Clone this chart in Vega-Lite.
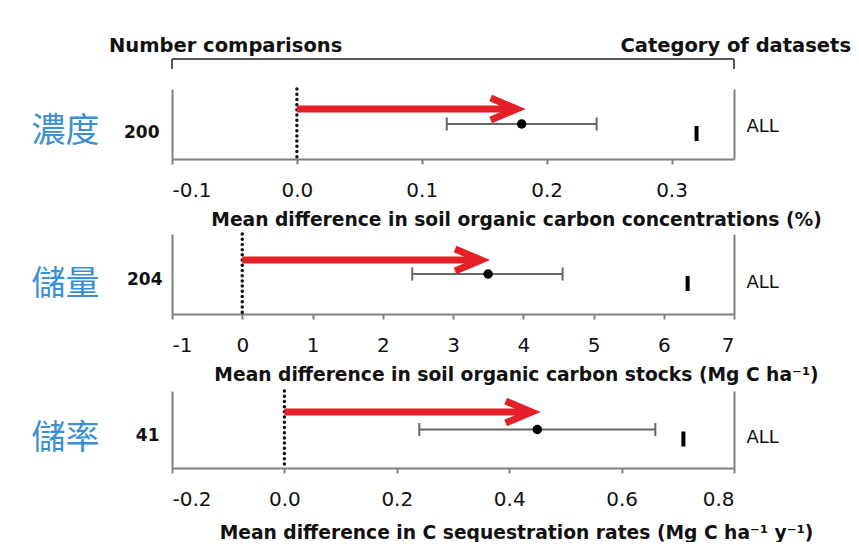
{
  "$schema": "https://vega.github.io/schema/vega-lite/v6.json",
  "background": "white",
  "padding": {"left": 31, "top": 36, "right": 0, "bottom": 0},
  "spacing": 3,
  "config": {
    "view": {"stroke": null},
    "axis": {"grid": false},
    "tick": {"opacity": 1},
    "axisX": {
      "domainColor": "#808080", "domainWidth": 2,
      "tickColor": "#808080", "tickWidth": 2, "tickSize": 5,
      "labelFont": "DejaVu Sans", "labelFontSize": 20, "labelColor": "#111", "labelPadding": 16,
      "labelExpr": "replace(datum.label, '\u2212', '-')",
      "titleFont": "DejaVu Sans", "titleFontWeight": "bold", "titleFontSize": 18.7, "titleColor": "#111",
      "titlePadding": 10, "titleX": 344
    }
  },
  "vconcat": [
    {
      "width": 562, "height": 22,
      "layer": [
        {
          "data": {"values": [{"bracket": "top"}]},
          "mark": {"type": "rule", "color": "#555", "strokeWidth": 2},
          "encoding": {
            "x": {"datum": 0, "type": "quantitative", "scale": {"domain": [0, 1]}, "axis": null},
            "x2": {"datum": 1},
            "y": {"datum": 1, "type": "quantitative", "scale": {"domain": [0, 1]}, "axis": null}
          }
        },
        {
          "data": {"values": [{"end": 0}, {"end": 1}]},
          "mark": {"type": "rule", "color": "#555", "strokeWidth": 2},
          "encoding": {
            "x": {"field": "end", "type": "quantitative", "axis": null},
            "y": {"datum": 1, "type": "quantitative"},
            "y2": {"datum": 0.545}
          }
        },
        {
          "data": {"values": [{"label": "Number comparisons"}]},
          "mark": {"type": "text", "font": "DejaVu Sans", "fontWeight": "bold", "fontSize": 19.5, "color": "#111", "align": "left", "baseline": "alphabetic", "dx": -63, "dy": -7},
          "encoding": {
            "text": {"field": "label"},
            "x": {"datum": 0, "type": "quantitative"},
            "y": {"datum": 1, "type": "quantitative"}
          }
        },
        {
          "data": {"values": [{"label": "Category of datasets"}]},
          "mark": {"type": "text", "font": "DejaVu Sans", "fontWeight": "bold", "fontSize": 19.5, "color": "#111", "align": "right", "baseline": "alphabetic", "dx": 117, "dy": -7},
          "encoding": {
            "text": {"field": "label"},
            "x": {"datum": 1, "type": "quantitative"},
            "y": {"datum": 1, "type": "quantitative"}
          }
        }
      ]
    },
    {
      "width": 562, "height": 70,
      "data": {"values": [{"n": "200", "cat": "ALL", "mean": 0.18, "lo": 0.12, "hi": 0.24, "arrow": 0.176, "marker": 0.32}]},
      "layer": [
        {
          "mark": {"type": "rule", "color": "#111", "strokeWidth": 3.5, "strokeDash": [0.01, 5.2], "strokeCap": "round"},
          "encoding": {"x": {"datum": 0, "type": "quantitative"}}
        },
        {
          "encoding": {
            "y": {"field": "n", "type": "nominal", "scale": {"align": 0.5},
              "axis": {"orient": "left", "title": "濃度", "titleAngle": 0, "titleAlign": "right", "titleBaseline": "middle", "titleX": -73, "titleY": 42,
                "titleFont": "Noto Sans CJK TC", "titleFontSize": 34, "titleFontWeight": "normal", "titleColor": "#3b8fd3",
                "labelFont": "DejaVu Sans", "labelFontWeight": "bold", "labelFontSize": 17, "labelColor": "#111", "labelPadding": 13, "labelOffset": 8.5,
                "ticks": false, "domain": true, "domainColor": "#808080", "domainWidth": 2}}
          },
          "layer": [
            {
              "mark": {"type": "rule", "color": "#666", "strokeWidth": 2},
              "encoding": {
                "x": {"field": "lo", "type": "quantitative", "title": "Mean difference in soil organic carbon concentrations (%)",
                  "scale": {"domain": [-0.1, 0.35], "nice": false, "zero": false},
                  "axis": {"values": [-0.1, 0, 0.1, 0.2, 0.3], "format": ".1f", "titlePadding": 10}},
                "x2": {"field": "hi"}
              }
            },
            {
              "mark": {"type": "tick", "color": "#666", "thickness": 2, "size": 13},
              "encoding": {"x": {"field": "lo", "type": "quantitative", "title": "Mean difference in soil organic carbon concentrations (%)"}}
            },
            {
              "mark": {"type": "tick", "color": "#666", "thickness": 2, "size": 13},
              "encoding": {"x": {"field": "hi", "type": "quantitative", "title": "Mean difference in soil organic carbon concentrations (%)"}}
            },
            {
              "mark": {"type": "rule", "color": "#e41f26", "strokeWidth": 7, "yOffset": -15},
              "encoding": {"x": {"field": "arrow", "type": "quantitative", "title": "Mean difference in soil organic carbon concentrations (%)"}, "x2": {"datum": 0}}
            },
            {
              "mark": {"type": "point", "shape": "M-1,-0.42L0,0L-1,0.42", "filled": false, "stroke": "#e41f26", "strokeWidth": 7, "strokeJoin": "miter", "size": 2704, "opacity": 1, "yOffset": -15},
              "encoding": {"x": {"field": "arrow", "type": "quantitative", "title": "Mean difference in soil organic carbon concentrations (%)"}}
            },
            {
              "mark": {"type": "point", "filled": true, "color": "#000", "size": 90, "opacity": 1},
              "encoding": {"x": {"field": "mean", "type": "quantitative", "title": "Mean difference in soil organic carbon concentrations (%)"}}
            }
          ]
        },
        {
          "mark": {"type": "tick", "color": "#000", "thickness": 4, "size": 15, "yOffset": 9.5},
          "encoding": {
            "x": {"field": "marker", "type": "quantitative", "title": "Mean difference in soil organic carbon concentrations (%)"},
            "y": {"field": "cat", "type": "nominal",
              "axis": {"orient": "right", "title": null, "ticks": false, "domain": true, "domainColor": "#808080", "domainWidth": 2,
                "labelFont": "DejaVu Sans", "labelFontSize": 18, "labelColor": "#111", "labelPadding": 12, "labelOffset": 3}}
          }
        }
      ],
      "resolve": {"scale": {"y": "independent"}}
    },
    {
      "width": 562, "height": 80,
      "data": {"values": [{"n": "204", "cat": "ALL", "mean": 3.5, "lo": 2.42, "hi": 4.56, "arrow": 3.4, "marker": 6.34}]},
      "layer": [
        {
          "mark": {"type": "rule", "color": "#111", "strokeWidth": 3.5, "strokeDash": [0.01, 5.2], "strokeCap": "round"},
          "encoding": {"x": {"datum": 0, "type": "quantitative"}}
        },
        {
          "encoding": {
            "y": {"field": "n", "type": "nominal", "scale": {"align": 0.55},
              "axis": {"orient": "left", "title": "儲量", "titleAngle": 0, "titleAlign": "right", "titleBaseline": "middle", "titleX": -73, "titleY": 50,
                "titleFont": "Noto Sans CJK TC", "titleFontSize": 34, "titleFontWeight": "normal", "titleColor": "#3b8fd3",
                "labelFont": "DejaVu Sans", "labelFontWeight": "bold", "labelFontSize": 17, "labelColor": "#111", "labelPadding": 10, "labelOffset": 5.5,
                "ticks": false, "domain": true, "domainColor": "#808080", "domainWidth": 2}}
          },
          "layer": [
            {
              "mark": {"type": "rule", "color": "#666", "strokeWidth": 2},
              "encoding": {
                "x": {"field": "lo", "type": "quantitative", "title": "Mean difference in soil organic carbon stocks (Mg C ha⁻¹)",
                  "scale": {"domain": [-1, 7], "nice": false, "zero": false},
                  "axis": {"values": [-1, 0, 1, 2, 3, 4, 5, 6, 7], "format": "d"}},
                "x2": {"field": "hi"}
              }
            },
            {
              "mark": {"type": "tick", "color": "#666", "thickness": 2, "size": 13},
              "encoding": {"x": {"field": "lo", "type": "quantitative", "title": "Mean difference in soil organic carbon stocks (Mg C ha⁻¹)"}}
            },
            {
              "mark": {"type": "tick", "color": "#666", "thickness": 2, "size": 13},
              "encoding": {"x": {"field": "hi", "type": "quantitative", "title": "Mean difference in soil organic carbon stocks (Mg C ha⁻¹)"}}
            },
            {
              "mark": {"type": "rule", "color": "#e41f26", "strokeWidth": 7, "yOffset": -14},
              "encoding": {"x": {"field": "arrow", "type": "quantitative", "title": "Mean difference in soil organic carbon stocks (Mg C ha⁻¹)"}, "x2": {"datum": 0}}
            },
            {
              "mark": {"type": "point", "shape": "M-1,-0.42L0,0L-1,0.42", "filled": false, "stroke": "#e41f26", "strokeWidth": 7, "strokeJoin": "miter", "size": 2704, "opacity": 1, "yOffset": -14},
              "encoding": {"x": {"field": "arrow", "type": "quantitative", "title": "Mean difference in soil organic carbon stocks (Mg C ha⁻¹)"}}
            },
            {
              "mark": {"type": "point", "filled": true, "color": "#000", "size": 90, "opacity": 1},
              "encoding": {"x": {"field": "mean", "type": "quantitative", "title": "Mean difference in soil organic carbon stocks (Mg C ha⁻¹)"}}
            }
          ]
        },
        {
          "mark": {"type": "tick", "color": "#000", "thickness": 4, "size": 15, "yOffset": 9.5},
          "encoding": {
            "x": {"field": "marker", "type": "quantitative", "title": "Mean difference in soil organic carbon stocks (Mg C ha⁻¹)"},
            "y": {"field": "cat", "type": "nominal",
              "axis": {"orient": "right", "title": null, "ticks": false, "domain": true, "domainColor": "#808080", "domainWidth": 2,
                "labelFont": "DejaVu Sans", "labelFontSize": 18, "labelColor": "#111", "labelPadding": 12, "labelOffset": 9}}
          }
        }
      ],
      "resolve": {"scale": {"y": "independent"}}
    },
    {
      "width": 562, "height": 77,
      "data": {"values": [{"n": "41", "cat": "ALL", "mean": 0.45, "lo": 0.24, "hi": 0.66, "arrow": 0.44, "marker": 0.71}]},
      "layer": [
        {
          "mark": {"type": "rule", "color": "#111", "strokeWidth": 3.5, "strokeDash": [0.01, 5.2], "strokeCap": "round"},
          "encoding": {"x": {"datum": 0, "type": "quantitative"}}
        },
        {
          "encoding": {
            "y": {"field": "n", "type": "nominal", "scale": {"align": 0.555},
              "axis": {"orient": "left", "title": "儲率", "titleAngle": 0, "titleAlign": "right", "titleBaseline": "middle", "titleX": -73, "titleY": 47,
                "titleFont": "Noto Sans CJK TC", "titleFontSize": 34, "titleFontWeight": "normal", "titleColor": "#3b8fd3",
                "labelFont": "DejaVu Sans", "labelFontWeight": "bold", "labelFontSize": 17, "labelColor": "#111", "labelPadding": 13, "labelOffset": 6,
                "ticks": false, "domain": true, "domainColor": "#808080", "domainWidth": 2}}
          },
          "layer": [
            {
              "mark": {"type": "rule", "color": "#666", "strokeWidth": 2},
              "encoding": {
                "x": {"field": "lo", "type": "quantitative", "title": "Mean difference in C sequestration rates (Mg C ha⁻¹ y⁻¹)",
                  "scale": {"domain": [-0.2, 0.8], "nice": false, "zero": false},
                  "axis": {"values": [-0.2, 0, 0.2, 0.4, 0.6, 0.8], "format": ".1f", "titlePadding": 14}},
                "x2": {"field": "hi"}
              }
            },
            {
              "mark": {"type": "tick", "color": "#666", "thickness": 2, "size": 13},
              "encoding": {"x": {"field": "lo", "type": "quantitative", "title": "Mean difference in C sequestration rates (Mg C ha⁻¹ y⁻¹)"}}
            },
            {
              "mark": {"type": "tick", "color": "#666", "thickness": 2, "size": 13},
              "encoding": {"x": {"field": "hi", "type": "quantitative", "title": "Mean difference in C sequestration rates (Mg C ha⁻¹ y⁻¹)"}}
            },
            {
              "mark": {"type": "rule", "color": "#e41f26", "strokeWidth": 7, "yOffset": -17.5},
              "encoding": {"x": {"field": "arrow", "type": "quantitative", "title": "Mean difference in C sequestration rates (Mg C ha⁻¹ y⁻¹)"}, "x2": {"datum": 0}}
            },
            {
              "mark": {"type": "point", "shape": "M-1,-0.42L0,0L-1,0.42", "filled": false, "stroke": "#e41f26", "strokeWidth": 7, "strokeJoin": "miter", "size": 2704, "opacity": 1, "yOffset": -17.5},
              "encoding": {"x": {"field": "arrow", "type": "quantitative", "title": "Mean difference in C sequestration rates (Mg C ha⁻¹ y⁻¹)"}}
            },
            {
              "mark": {"type": "point", "filled": true, "color": "#000", "size": 90, "opacity": 1},
              "encoding": {"x": {"field": "mean", "type": "quantitative", "title": "Mean difference in C sequestration rates (Mg C ha⁻¹ y⁻¹)"}}
            }
          ]
        },
        {
          "mark": {"type": "tick", "color": "#000", "thickness": 4, "size": 15, "yOffset": 9.5},
          "encoding": {
            "x": {"field": "marker", "type": "quantitative", "title": "Mean difference in C sequestration rates (Mg C ha⁻¹ y⁻¹)"},
            "y": {"field": "cat", "type": "nominal",
              "axis": {"orient": "right", "title": null, "ticks": false, "domain": true, "domainColor": "#808080", "domainWidth": 2,
                "labelFont": "DejaVu Sans", "labelFontSize": 18, "labelColor": "#111", "labelPadding": 12, "labelOffset": 8}}
          }
        }
      ],
      "resolve": {"scale": {"y": "independent"}}
    }
  ]
}
